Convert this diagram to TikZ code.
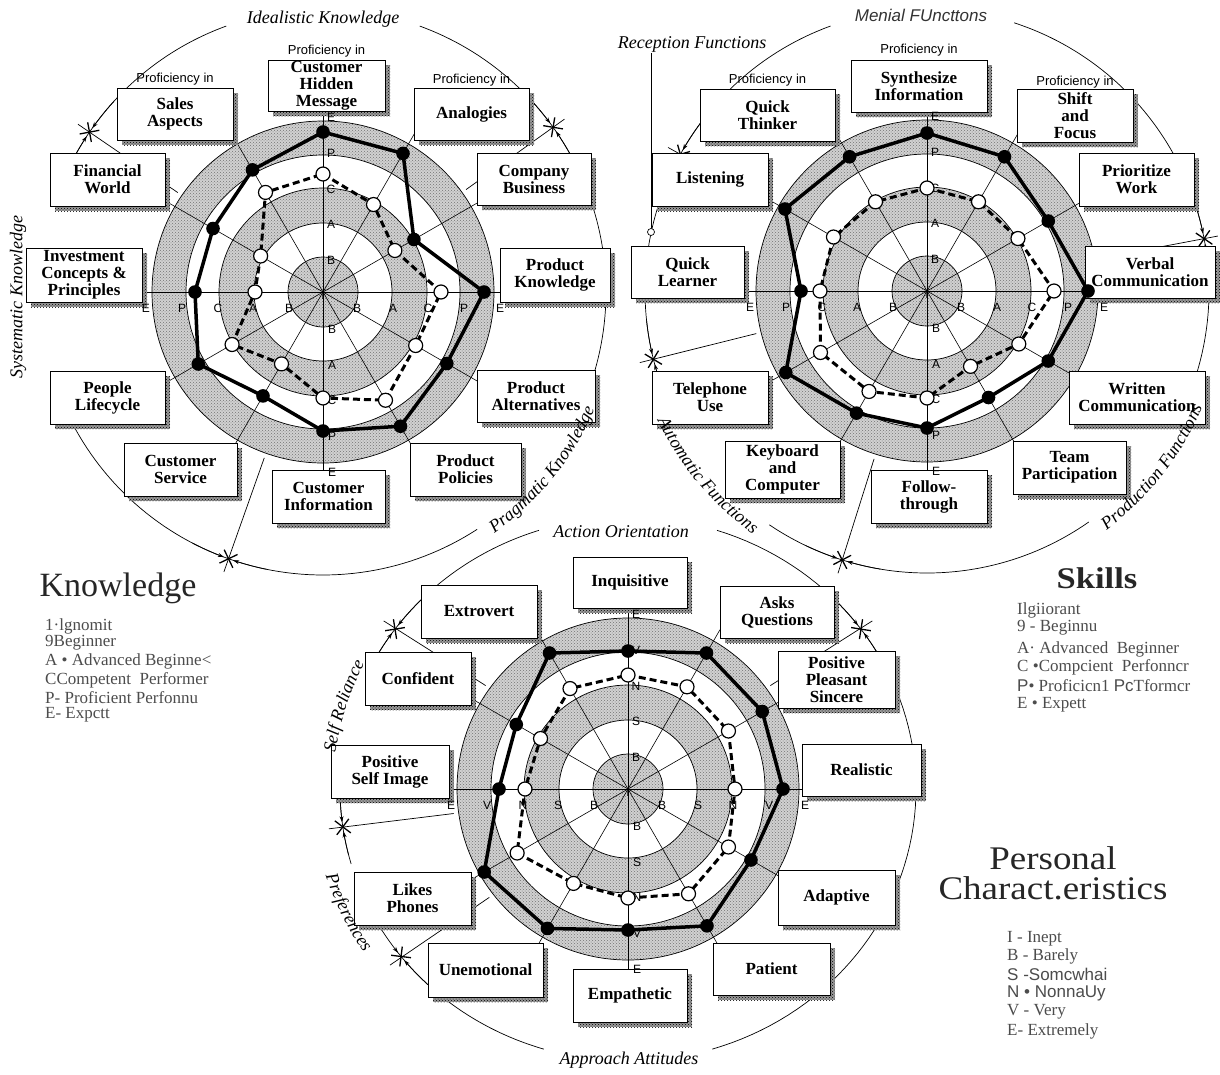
\documentclass[tikz,border=0pt]{standalone}
\usepackage{fontspec}
\setmainfont{Liberation Serif}
\newfontfamily\sansf{Liberation Sans}
\usetikzlibrary{patterns,arrows.meta,decorations.text}

\newcommand{\catfont}{\fontsize{18}{20}\selectfont\itshape}

% outer arc of a category circle: cx, cy, rx, ry, from, to (degrees, counter-clockwise)
\newcommand{\bigarc}[6]{\draw[bigc] plot[domain=#5:#6, samples=70] ({#1+#3*cos(\x)},{#2-#4*sin(\x)});}

% curved category name: cx, cy, rx, ry, from, to, text
\newcommand{\arclabel}[7]{\path[decorate, decoration={text along path, text align=center,
    text={|\catfont|#7}}] plot[domain=#5:#6, samples=80] ({#1+#3*cos(\x)},{#2-#4*sin(\x)});}

% category boundary marker: cx, cy, rx, ry, angle
\newcommand{\tickmark}[5]{%
  \draw[tickl] ({#1+176*cos(#5)},{#2-176*sin(#5)}) -- ({#1+(#3+14)*cos(#5)},{#2-(#4+14)*sin(#5)});
  \draw[xmk] ({#1+#3*cos(#5)+10*cos(#5+45)},{#2-#4*sin(#5)-10*sin(#5+45)}) -- ({#1+#3*cos(#5)-10*cos(#5+45)},{#2-#4*sin(#5)+10*sin(#5+45)});
  \draw[xmk] ({#1+#3*cos(#5)+10*cos(#5-45)},{#2-#4*sin(#5)-10*sin(#5-45)}) -- ({#1+#3*cos(#5)-10*cos(#5-45)},{#2-#4*sin(#5)+10*sin(#5-45)});
  \draw[tickl,-{Stealth[length=6pt,width=4pt]}] plot[domain=#5+8:#5+1, samples=6] ({#1+#3*cos(\x)},{#2-#4*sin(\x)});
  \draw[tickl,-{Stealth[length=6pt,width=4pt]}] plot[domain=#5-8:#5-1, samples=6] ({#1+#3*cos(\x)},{#2-#4*sin(\x)});
}

% shaded rings and spokes of one radar chart
\newcommand{\radar}[2]{%
  \begin{scope}[shift={(#1,#2)}]
    \path[ringfill] (0,0) circle (35);
    \path[ringfill, even odd rule] (0,0) circle (104) (0,0) circle (69);
    \path[ringfill, even odd rule] (0,0) circle (171) (0,0) circle (137);
    \path[ringdots] (0,0) circle (35);
    \path[ringdots, even odd rule] (0,0) circle (104) (0,0) circle (69);
    \path[ringdots, even odd rule] (0,0) circle (171) (0,0) circle (137);
    \foreach \r in {35,69,104,137,171} \draw[ringline] (0,0) circle (\r);
    \foreach \a in {0,30,...,330} \draw[spoke] (0,0) -- (\a:184);
  \end{scope}}

% level letters along the axes: prefix, cx, cy, letter/radius list
\newcommand{\axislabels}[4]{%
  \begin{scope}[shift={(#2,#3)}]
    \node[axl] (#1c) at (0,3) {I};
    \foreach \l/\r in {#4} {
      \node[axl] (#1\l r) at (\r,16) {\l};
      \node[axl] (#1\l l) at (-\r,16) {\l};
      \node[axl] (#1\l t) at (8,-\r+2) {\l};
      \node[axl] (#1\l b) at (9,\r+3) {\l};
    }
  \end{scope}}

% twelve data points, clockwise from the top: prefix, cx, cy, radii
\newcommand{\series}[4]{%
  \begin{scope}[shift={(#2,#3)}]
    \foreach \r [count=\i] in {#4} \coordinate (#1\i) at ({30*\i-120}:\r);
  \end{scope}}

\newcommand{\solidseries}[1]{%
  \draw[solidpoly] (#11) \foreach \i in {2,...,12} {-- (#1\i)} -- cycle;
  \foreach \i in {1,...,12} \fill[fdot] (#1\i) circle (6.8);}
\newcommand{\dashseries}[1]{%
  \draw[dashpoly] (#11) \foreach \i in {2,...,12} {-- (#1\i)} -- cycle;
  \foreach \i in {1,...,12} \draw[odot] (#1\i) circle (7);}

% labelled box with a dotted drop shadow: name, x1, y1, x2, y2, text
\newcommand{\pbox}[6]{%
  \fill[shadowfill] ({#2+5},{#3+5}) rectangle ({#4+5},{#5+5});
  \fill[shadowdots] ({#2+5},{#3+5}) rectangle ({#4+5},{#5+5});
  \node[boxnode, minimum width={#4-#2}, minimum height={#5-#3}] (#1) at ({(#2+#4)/2},{(#3+#5)/2}) {#6};}

\tikzset{
  bigc/.style={line width=0.7pt},
  ringfill/.style={fill=black!18},
  ringdots/.style={pattern=crosshatch dots, pattern color=black!55},
  ringline/.style={line width=0.7pt},
  spoke/.style={line width=0.6pt},
  boxnode/.style={draw, line width=0.8pt, fill=white, inner sep=0pt, align=center,
    font=\fontsize{17}{17}\selectfont\bfseries},
  shadowfill/.style={fill=black!40},
  shadowdots/.style={pattern=crosshatch dots, pattern color=black},
  profl/.style={font=\sansf\fontsize{13}{14}\selectfont, inner sep=0pt},
  catl/.style={font=\catfont, inner sep=1pt},
  axl/.style={font=\sansf\fontsize{12}{13}\selectfont, inner sep=0pt},
  solidpoly/.style={line width=3.5pt, line join=round},
  dashpoly/.style={line width=3pt, dash pattern=on 7pt off 4pt},
  fdot/.style={fill=black},
  odot/.style={fill=white, draw=black, line width=1.2pt},
  tickl/.style={line width=0.7pt},
  xmk/.style={line width=1.3pt},
  legend/.style={font=\fontsize{17}{18}\selectfont, text=black!70, anchor=west, inner sep=0pt},
  title/.style={text=black!85, inner sep=0pt},
}

\begin{document}
\begin{tikzpicture}[x=1pt,y=-1pt]
\useasboundingbox (0,0) rectangle (1220,1074);
\fill[white] (0,0) rectangle (1220,1074);

% ---------- category circles ----------
% Knowledge
\bigarc{323}{292}{283}{283}{110}{160}
\bigarc{323}{292}{283}{283}{200}{303}
\bigarc{323}{292}{283}{283}{-21}{70}
% Skills
\bigarc{927}{291}{282}{282}{110}{204}
\bigarc{927}{291}{282}{282}{236}{305}
\bigarc{927}{291}{282}{282}{-21}{72}
% Personal characteristics
\bigarc{628}{789}{288}{272}{108}{151}
\bigarc{628}{789}{288}{272}{175}{194}
\bigarc{628}{789}{288}{272}{216}{253}
\bigarc{628}{789}{288}{272}{287}{432}

% category boundaries
\tickmark{323}{292}{283}{283}{145.6}
\tickmark{323}{292}{283}{283}{35.6}
\tickmark{323}{292}{283}{283}{-109.5}
\tickmark{927}{291}{282}{282}{151}
\tickmark{927}{291}{282}{282}{10.7}
\tickmark{927}{291}{282}{282}{-166}
\tickmark{927}{291}{282}{282}{-107.5}
\tickmark{628}{789}{288}{272}{144}
\tickmark{628}{789}{288}{272}{36}
\tickmark{628}{789}{288}{272}{188}
\tickmark{628}{789}{288}{272}{218}

% reception marker on the skills circle
\node[catl] (catRecep) at (692,44) {Reception Functions};
\node[circle, draw, fill=white, line width=0.7pt, inner sep=0pt, minimum size=7pt] (recmark) at (651,232) {};
\draw[tickl] (recmark.north) -- (recmark.north |- catRecep.south);

% ---------- radar rings ----------
\radar{323}{292}
\radar{927}{291}
\radar{628}{789}

% ---------- boxes ----------
% Knowledge
\pbox{kb1}{268}{60}{385}{111}{Customer\\Hidden\\Message}
\pbox{kb2}{414}{88}{529}{140}{Analogies}
\pbox{kb3}{477}{153}{591}{205}{Company\\Business}
\pbox{kb4}{500}{248}{610}{302}{Product\\Knowledge}
\pbox{kb5}{477}{370}{595}{422}{Product\\Alternatives}
\pbox{kb6}{410}{443}{521}{496}{Product\\Policies}
\pbox{kb7}{272}{470}{385}{523}{Customer\\Information}
\pbox{kb8}{124}{443}{237}{496}{Customer\\Service}
\pbox{kb9}{50}{371}{165}{424}{People\\Lifecycle}
\pbox{kb10}{26}{248}{142}{302}{Investment\\Concepts \&\\Principles}
\pbox{kb11}{50}{153}{165}{206}{Financial\\World}
\pbox{kb12}{117}{88}{233}{140}{Sales\\Aspects}
% Skills
\pbox{sb1}{851}{60}{987}{112}{Synthesize\\Information}
\pbox{sb2}{1017}{89}{1133}{142}{Shift\\and\\Focus}
\pbox{sb3}{1079}{153}{1194}{206}{Prioritize\\Work}
\pbox{sb4}{1085}{246}{1215}{298}{Verbal\\Communication}
\pbox{sb5}{1069}{371}{1205}{424}{Written\\Communication}
\pbox{sb6}{1013}{441}{1126}{494}{Team\\Participation}
\pbox{sb7}{871}{470}{987}{523}{Follow-\\through}
\pbox{sb8}{725}{441}{840}{498}{Keyboard\\and\\Computer}
\pbox{sb9}{652}{371}{768}{424}{Telephone\\Use}
\pbox{sb10}{631}{246}{744}{298}{Quick\\Learner}
\pbox{sb11}{652}{153}{768}{206}{Listening}
\pbox{sb12}{700}{89}{835}{141}{Quick\\Thinker}
% Personal characteristics
\pbox{pb1}{573}{557}{687}{608}{Inquisitive}
\pbox{pb2}{720}{586}{834}{638}{Asks\\Questions}
\pbox{pb3}{778}{651}{895}{708}{Positive\\Pleasant\\Sincere}
\pbox{pb4}{802}{744}{921}{796}{Realistic}
\pbox{pb5}{778}{870}{895}{925}{Adaptive}
\pbox{pb6}{713}{943}{830}{995}{Patient}
\pbox{pb7}{573}{969}{687}{1022}{Empathetic}
\pbox{pb8}{428}{943}{543}{997}{Unemotional}
\pbox{pb9}{354}{872}{471}{925}{Likes\\Phones}
\pbox{pb10}{331}{745}{449}{798}{Positive\\Self Image}
\pbox{pb11}{365}{652}{471}{705}{Confident}
\pbox{pb12}{421}{585}{537}{638}{Extrovert}

% "Proficiency in" headings
\node[profl] (kp1) at (kb1.north |- 0,51) {Proficiency in};
\node[profl] (kp2) at (kb12.north |- 0,79) {Proficiency in};
\node[profl] (kp3) at (kb2.north |- 0,80) {Proficiency in};
\node[profl] (sp1) at (sb1.north |- 0,50) {Proficiency in};
\node[profl] (sp2) at (sb12.north |- 0,80) {Proficiency in};
\node[profl] (sp3) at (sb2.north |- 0,82) {Proficiency in};

% ---------- category names ----------
\node[catl] (catIdeal) at (323,19) {Idealistic Knowledge};
\node[catl, rotate=90] (catSyst) at (18,297) {Systematic Knowledge};
\arclabel{323}{292}{296}{296}{-64}{-14}{Pragmatic Knowledge}
\node[catl, font=\sansf\fontsize{17}{19}\selectfont\itshape, text=black!80] (catMenial) at (921,15) {Menial FUncttons};
\arclabel{927}{291}{299}{299}{-63}{-13}{Production Functions}
\arclabel{927}{291}{299}{299}{195}{245}{Automatic Functions}
\node[catl] (catAction) at (621,532) {Action Orientation};
\node[catl] (catApproach) at (629,1060) {Approach Attitudes};
\arclabel{628}{789}{295}{279}{182}{144}{Self Reliance}
\arclabel{628}{789}{316}{298}{186}{224}{Preferences}

% ---------- axis letters ----------
\axislabels{ka}{323}{292}{B/34,A/70,C/105,P/141,E/177}
\axislabels{sa}{927}{291}{B/34,A/70,C/105,P/141,E/177}
\axislabels{pa}{628}{789}{B/34,S/70,N/105,V/141,E/177}

% ---------- profiles ----------
\series{ko}{323}{292}{118,101,83,118,107,125,106,83,105,68,72,115}
\series{ks}{323}{292}{160,160,105,161,143,155,139,120,144,128,127,141}
\series{so}{927}{291}{103,103,105,127,106,87,107,116,123,107,108,103}
\series{ss}{927}{291}{158,155,140,161,140,123,137,141,163,126,164,155}
\series{po}{628}{789}{114,118,116,107,116,121,109,109,128,103,101,116}
\series{ps}{628}{789}{138,157,155,155,142,158,141,161,166,129,129,157}
\dashseries{ko}
\solidseries{ks}
\dashseries{so}
\solidseries{ss}
\dashseries{po}
\solidseries{ps}

% ---------- titles and keys ----------
\node[title, font=\fontsize{34}{36}\selectfont] (tKnow) at (118,588) {Knowledge};
\node[title, font=\fontsize{30}{32}\selectfont\bfseries] (tSkill) at (1097,578) {\scalebox{1.15}[1]{Skills}};
\node[title, font=\fontsize{33}{34}\selectfont] (tPers1) at (1053,858) {\scalebox{1.12}[1]{Personal}};
\node[title, font=\fontsize{33}{34}\selectfont] (tPers2) at (1053,888) {\scalebox{1.12}[1]{Charact.eristics}};

\node[legend] (k1) at (45,626) {1·lgnomit};
\node[legend] (k2) at (45,643) {9Beginner};
\node[legend] (k3) at (45,661) {A • Advanced Beginne<};
\node[legend] (k4) at (45,680) {CCompetent\ \ Performer};
\node[legend] (k5) at (45,698) {P- Proficient Perfonnu};
\node[legend] (k6) at (45,715) {E- Expctt};

\node[legend] (s1) at (1017,610) {Ilgiiorant};
\node[legend] (s2) at (1017,628) {9 - Beginnu};
\node[legend] (s3) at (1017,649) {A· Advanced\ \ Beginner};
\node[legend] (s4) at (1017,667) {C •Compcient\ \ Perfonncr};
\node[legend] (s5) at (1017,686) {{\sansf P}• Proficicn1 {\sansf Pc}Tformcr};
\node[legend] (s6) at (1017,705) {E • Expett};

\node[legend] (p1) at (1007,939) {I - Inept};
\node[legend] (p2) at (1007,956) {B - Barely};
\node[legend] (p3) at (1007,974) {\sansf S -Somcwhai};
\node[legend] (p4) at (1007,993) {\sansf N • NonnaUy};
\node[legend] (p5) at (1007,1012) {V - Very};
\node[legend] (p6) at (1007,1031) {E- Extremely};
\end{tikzpicture}
\end{document}
